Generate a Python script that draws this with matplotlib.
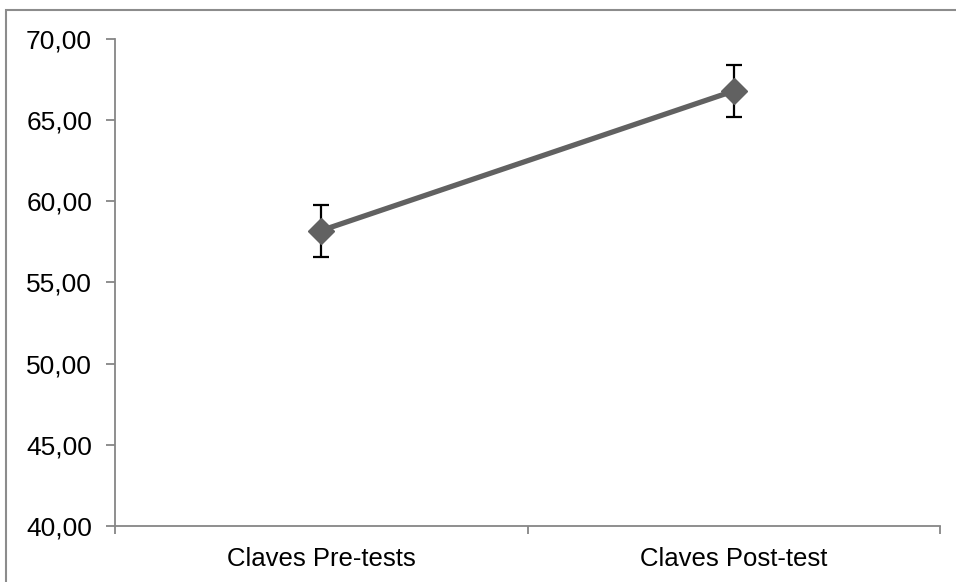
import matplotlib
matplotlib.use("Agg")
import matplotlib.pyplot as plt
from matplotlib.patches import Rectangle

# data
categories = ["Claves Pre-tests", "Claves Post-test"]
means = [58.2, 66.8]
err_low = [1.6, 1.6]
err_high = [1.6, 1.6]

plt.rcParams['font.family'] = ['Liberation Sans', 'DejaVu Sans']

fig = plt.figure(figsize=(9.56, 5.82), dpi=100)
ax = fig.add_axes([115/956, 1 - 526/582, (940 - 115)/956, (526 - 39)/582])

x = list(range(len(categories)))
ax.errorbar(x, means, yerr=[err_low, err_high], fmt='none', ecolor='black',
            elinewidth=1.6, capsize=6, capthick=1.6, zorder=2)
ax.plot(x, means, color='#616161', linewidth=3.8, marker='D', markersize=13.5,
        markerfacecolor='#616161', markeredgecolor='#616161', zorder=3)

ax.set_xlim(-0.5, len(categories) - 0.5)
ax.set_ylim(40, 70)
ax.set_yticks(range(40, 71, 5))
ax.set_yticklabels([f"{v},00" for v in range(40, 71, 5)])
ax.set_xticks(x)
ax.set_xticklabels(categories)
ax.set_xticks([-0.5, 0.5, 1.5], minor=True)

for side in ['top', 'right']:
    ax.spines[side].set_visible(False)
for side in ['left', 'bottom']:
    ax.spines[side].set_color('#868686')
    ax.spines[side].set_linewidth(1.3)

ax.tick_params(axis='y', length=6.5, width=1.3, color='#868686', labelsize=19, pad=10)
ax.tick_params(axis='x', which='major', length=0, labelsize=18.5, pad=15)
ax.tick_params(axis='x', which='minor', length=6, width=1.3, color='#868686')

# outer frame of the chart area
fig.patches.append(Rectangle((6/956, -0.1), 1.2, 1 - 10/582 + 0.1, transform=fig.transFigure,
                             fill=False, edgecolor='#8c8c8c', linewidth=1.5))

fig.savefig("out.png", dpi=100)
